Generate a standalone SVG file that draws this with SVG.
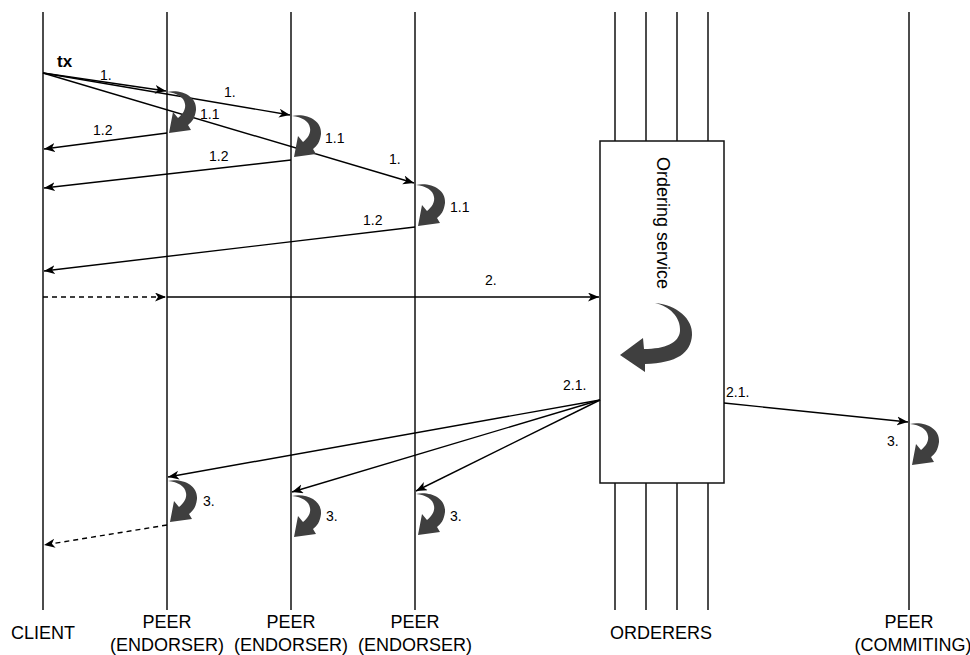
<svg xmlns="http://www.w3.org/2000/svg" xmlns:xlink="http://www.w3.org/1999/xlink" width="970" height="655" viewBox="0 0 970 655">
<style>
.life{stroke:#111;stroke-width:1.5;fill:none}
.conn{stroke:#000;stroke-width:1.4;fill:none;marker-end:url(#arr)}
.dash{stroke-dasharray:5 4}
.lbl{font-family:"Liberation Sans",Arial,sans-serif;font-size:14px;fill:#000}
.big{font-family:"Liberation Sans",Arial,sans-serif;font-size:18px;fill:#000;text-anchor:middle}
.curl{fill:#3f3f3f}
</style>
<defs>
<marker id="arr" markerUnits="userSpaceOnUse" markerWidth="12" markerHeight="10" refX="11" refY="4.5" orient="auto">
<path d="M0,0 L11,4.5 L0,9 L3,4.5 Z" fill="#000"/>
</marker>
<path id="curl" d="M0,0 C14,-3 30,4 29,18 C28,26 25,30 21,33 L24,38 L2,41 L6,20 L11,26 C16,22 19,17 18,12 C17,5 10,1 0,0 Z"/>
</defs>

<g id="client"><line class="life" x1="43" y1="12" x2="43" y2="610"/><text class="big" x="43" y="639">CLIENT</text></g>
<g id="peer1"><line class="life" x1="167" y1="12" x2="167" y2="610"/><text class="big" x="167" y="628">PEER</text><text class="big" x="167" y="651">(ENDORSER)</text></g>
<g id="peer2"><line class="life" x1="291" y1="12" x2="291" y2="610"/><text class="big" x="291" y="628">PEER</text><text class="big" x="291" y="651">(ENDORSER)</text></g>
<g id="peer3"><line class="life" x1="415" y1="12" x2="415" y2="610"/><text class="big" x="415" y="628">PEER</text><text class="big" x="415" y="651">(ENDORSER)</text></g>
<g id="orderers">
<line class="life" x1="615" y1="12" x2="615" y2="610"/>
<line class="life" x1="646" y1="12" x2="646" y2="610"/>
<line class="life" x1="677" y1="12" x2="677" y2="610"/>
<line class="life" x1="708" y1="12" x2="708" y2="610"/>
<text class="big" x="661" y="639">ORDERERS</text>
</g>
<g id="ordering-service">
<rect x="600" y="141" width="124" height="342" fill="#fff" stroke="#111" stroke-width="1.5"/>
<text class="big" transform="translate(657,157) rotate(90)" style="text-anchor:start">Ordering service</text>
<path class="curl" d="M655,303 C677,305 693,319 692,335 C691,353 677,363 645,364 L645,372 L620,355 L643,338 L644,349 C665,349 679,343 680,331 C681,317 669,306 655,303 Z"/>
</g>
<g id="peer-commiting"><line class="life" x1="909" y1="12" x2="909" y2="610"/><text class="big" x="909" y="628">PEER</text><text class="big" x="913" y="651">(COMMITING)</text></g>

<g id="connectors">
<line class="conn" x1="43" y1="73" x2="166" y2="91"/>
<line class="conn" x1="43" y1="73" x2="290" y2="115"/>
<line class="conn" x1="43" y1="73" x2="414" y2="183"/>
<line class="conn" x1="167" y1="133" x2="44" y2="149"/>
<line class="conn" x1="291" y1="160" x2="44" y2="188"/>
<line class="conn" x1="415" y1="227" x2="44" y2="271"/>
<line class="conn dash" x1="43" y1="297" x2="166" y2="297"/>
<line class="conn" x1="167" y1="297" x2="599" y2="297"/>
<line class="conn" x1="600" y1="400" x2="168" y2="477"/>
<line class="conn" x1="600" y1="400" x2="292" y2="492"/>
<line class="conn" x1="600" y1="400" x2="416" y2="491"/>
<line class="conn" x1="724" y1="403" x2="908" y2="422"/>
<line class="conn dash" x1="167" y1="525" x2="44" y2="545"/>
</g>

<g id="processing">
<use href="#curl" class="curl" transform="translate(167,92)"/>
<use href="#curl" class="curl" transform="translate(292,116)"/>
<use href="#curl" class="curl" transform="translate(416,185)"/>
<use href="#curl" class="curl" transform="translate(168,481)"/>
<use href="#curl" class="curl" transform="translate(292,496)"/>
<use href="#curl" class="curl" transform="translate(416,494)"/>
<use href="#curl" class="curl" transform="translate(910,424)"/>
</g>

<g id="labels">
<text class="lbl" x="57" y="67" style="font-weight:bold;font-size:17px">tx</text>
<text class="lbl" x="100" y="80">1.</text>
<text class="lbl" x="224" y="97">1.</text>
<text class="lbl" x="389" y="164">1.</text>
<text class="lbl" x="200" y="119">1.1</text>
<text class="lbl" x="325" y="143">1.1</text>
<text class="lbl" x="450" y="212">1.1</text>
<text class="lbl" x="93" y="135">1.2</text>
<text class="lbl" x="209" y="161">1.2</text>
<text class="lbl" x="363" y="225">1.2</text>
<text class="lbl" x="485" y="285">2.</text>
<text class="lbl" x="563" y="390">2.1.</text>
<text class="lbl" x="726" y="397">2.1.</text>
<text class="lbl" x="203" y="506">3.</text>
<text class="lbl" x="326" y="521">3.</text>
<text class="lbl" x="450" y="521">3.</text>
<text class="lbl" x="887" y="446">3.</text>
</g>
</svg>
